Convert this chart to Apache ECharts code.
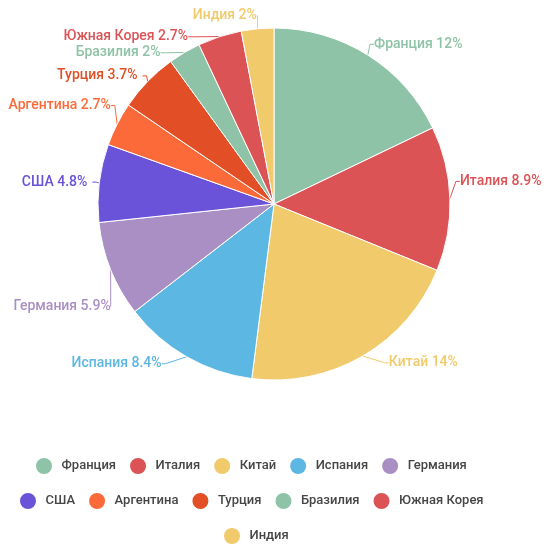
<!DOCTYPE html>
<html>
<head>
<meta charset="utf-8">
<script src="https://cdn.jsdelivr.net/npm/echarts@6/dist/echarts.min.js"></script>
<style>
  html, body { margin: 0; padding: 0; background: #fff; }
  #chart { width: 556px; height: 550px; }
</style>
</head>
<body>
<div id="chart"></div>
<script>
// countries and their values (shown with a % sign)
const countries = ['Франция', 'Италия', 'Китай', 'Испания', 'Германия', 'США', 'Аргентина', 'Турция', 'Бразилия', 'Южная Корея', 'Индия']
const values = [12, 8.9, 14, 8.4, 5.9, 4.8, 2.7, 3.7, 2, 2.7, 2]
const colors = ['#8ec3a7', '#dc5356', '#f0ca6b', '#5db7e3', '#aa8fc5', '#6a52d9', '#fd6a3a', '#e24f26', '#8ec3a7', '#dc5356', '#f0ca6b']
// legend rows, each centred on its own
const legendRows = [countries.slice(0, 5), countries.slice(5, 10), countries.slice(10)]
// small label nudges [dx, dy] in px so labels sit like the reference
const labelNudge = {
  'Франция': [-7, -4],
  'Италия': [-7, -17],
  'Китай': [13, 0],
  'Испания': [-12, 0],
  'Германия': [12, 34],
  'Аргентина': [5, -15],
  'Бразилия': [-4, 0],
  'Южная Корея': [-4, 0],
  'Индия': [9, -5],
}

let chart = echarts.init(document.getElementById('chart'))

const legendFont = { fontFamily: 'Roboto', fontSize: 13, fontWeight: 500, color: '#464646' }
const itemW = 25
const itemGap = 12
const legendMid = 252

// measure a legend row so each one can be centred around legendMid
let ctx = document.createElement('canvas').getContext('2d')
ctx.font = '500 13px Roboto'
function rowWidth(row) {
  let w = 0
  row.forEach((name, i) => {
    w += itemW + 5 + ctx.measureText(name).width
    if (i > 0) w += itemGap
  })
  return w
}

chart.setOption({
  color: colors,
  legend: legendRows.map((row, i) => ({
    left: Math.round(legendMid - rowWidth(row) / 2),
    top: 451 + i * 35,
    icon: 'circle',
    itemWidth: itemW,
    itemHeight: 18,
    itemGap: itemGap,
    textStyle: legendFont,
    data: row,
  })),
  series: [
    {
      type: 'pie',
      center: [274, 204],
      radius: 176,
      startAngle: 90,
      itemStyle: {
        borderColor: '#fff',
        borderWidth: 1,
      },
      label: {
        show: true,
        formatter: '{b} {c}%',
        fontFamily: 'Roboto',
        fontSize: 14,
        fontWeight: 500,
        color: 'inherit',
        overflow: 'none',
      },
      labelLine: {
        length: 8,
        length2: 4,
        lineStyle: { width: 1 },
      },
      labelLayout: function (p) {
        let n = labelNudge[countries[p.dataIndex]]
        if (!n) return {}
        let r = p.labelRect
        let ax = p.align === 'right' ? r.x + r.width : p.align === 'center' ? r.x + r.width / 2 : r.x
        return { x: ax + n[0], y: r.y + r.height / 2 + n[1] }
      },
      emphasis: { disabled: true },
      data: countries.map((name, i) => ({ name: name, value: values[i] })),
    },
  ],
})
</script>
</body>
</html>
